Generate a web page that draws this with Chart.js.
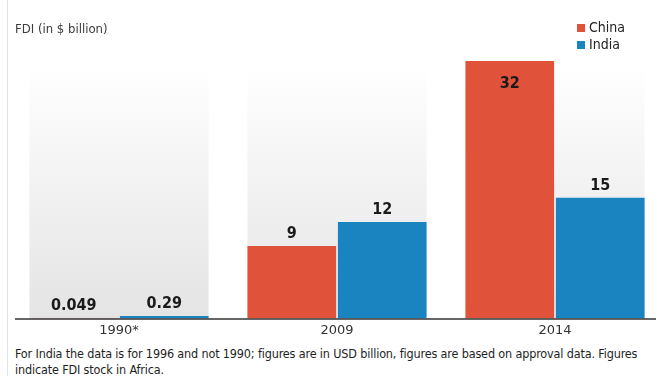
<!DOCTYPE html>
<html lang="en">
  <head>
    <meta charset="UTF-8" />
    <title>FDI in Africa</title>
    <script src="https://cdn.jsdelivr.net/npm/chart.js"></script>
    <style>
      body {
        margin: 0;
        width: 656px;
        height: 376px;
        overflow: hidden;
        background: #ffffff;
        font-family: "DejaVu Sans", sans-serif;
        font-stretch: condensed;
        position: relative;
      }

      .frame {
        position: absolute;
        left: 7px;
        top: 0;
        width: 1px;
        height: 376px;
        background: #e4e4e4;
      }

      h1 {
        position: absolute;
        left: 15px;
        top: 21px;
        margin: 0;
        font-size: 13px;
        font-weight: normal;
        color: #3a3a3a;
      }

      .legend {
        position: absolute;
        left: 577px;
        top: 19px;
        font-size: 14px;
        color: #222;
        line-height: 17px;
      }

      .legend span {
        display: inline-block;
        width: 8px;
        height: 8px;
        margin-right: 4px;
      }

      #wrap {
        position: absolute;
        left: 0;
        top: 0;
        width: 672px;
        height: 342px;
      }

      .note {
        position: absolute;
        left: 15px;
        top: 346px;
        width: 660px;
        margin: 0;
        font-size: 12.5px;
        line-height: 16px;
        color: #1e1e1e;
        letter-spacing: -0.15px;
      }
    </style>
  </head>
  <body>
    <div class="frame"></div>
    <div id="wrap"><canvas id="fdiChart"></canvas></div>
    <h1>FDI (in $ billion)</h1>
    <div class="legend">
      <div><span style="background:#e0533a"></span>China</div>
      <div><span style="background:#1a84c0"></span>India</div>
    </div>
    <p class="note">
      For India the data is for 1996 and not 1990; figures are in USD billion, figures are based on approval data. Figures<br />
      indicate FDI stock in Africa.
    </p>

    <script>
      const years = ["1990*", "2009", "2014"];
      const china = [0.049, 9, 32];
      const india = [0.29, 12, 15];
      const chinaLabels = ["0.049", "9", "32"];
      const indiaLabels = ["0.29", "12", "15"];

      const chinaColor = "#e0533a";
      const indiaColor = "#1a84c0";

      // gray gradient panel behind each year's pair of bars
      const bandPlugin = {
        id: "bands",
        beforeDatasetsDraw(chart) {
          const ctx = chart.ctx;
          const area = chart.chartArea;
          const m0 = chart.getDatasetMeta(0).data;
          const m1 = chart.getDatasetMeta(1).data;
          const top = area.top + 4;
          ctx.save();
          for (let i = 0; i < m0.length; i++) {
            const left = m0[i].x - m0[i].width / 2;
            const right = m1[i].x + m1[i].width / 2;
            const g = ctx.createLinearGradient(0, top, 0, area.bottom);
            g.addColorStop(0, "rgba(255,255,255,1)");
            g.addColorStop(1, "#e4e4e4");
            ctx.fillStyle = g;
            ctx.fillRect(left, top, right - left, area.bottom - top);
          }
          ctx.restore();
        },
        afterDatasetsDraw(chart) {
          const ctx = chart.ctx;
          const area = chart.chartArea;
          ctx.save();
          // baseline
          ctx.strokeStyle = "#333";
          ctx.lineWidth = 1.5;
          ctx.beginPath();
          ctx.moveTo(15, area.bottom + 0.5);
          ctx.lineTo(chart.width, area.bottom + 0.5);
          ctx.stroke();

          // value labels
          ctx.font = "bold 16px 'DejaVu Sans', sans-serif";
          if ("fontStretch" in ctx) ctx.fontStretch = "condensed";
          ctx.fillStyle = "#1a1a1a";
          ctx.textAlign = "center";
          const labels = [chinaLabels, indiaLabels];
          chart.data.datasets.forEach((ds, d) => {
            chart.getDatasetMeta(d).data.forEach((bar, i) => {
              if (bar.y - area.top < 30) {
                ctx.textBaseline = "middle";
                ctx.fillText(labels[d][i], bar.x, bar.y + 23);
              } else {
                ctx.textBaseline = "bottom";
                ctx.fillText(labels[d][i], bar.x, bar.y - 4);
              }
            });
          });
          ctx.restore();
        },
      };

      new Chart(document.getElementById("fdiChart"), {
        type: "bar",
        data: {
          labels: years,
          datasets: [
            {
              label: "China",
              data: china,
              backgroundColor: chinaColor,
              categoryPercentage: 0.83,
              barPercentage: 0.98,
            },
            {
              label: "India",
              data: india,
              backgroundColor: indiaColor,
              categoryPercentage: 0.83,
              barPercentage: 0.98,
            },
          ],
        },
        options: {
          responsive: true,
          maintainAspectRatio: false,
          animation: false,
          layout: { padding: { top: 61, left: 10, right: 8, bottom: 0 } },
          plugins: {
            legend: { display: false },
            tooltip: { enabled: false },
          },
          scales: {
            x: {
              grid: { display: false, drawTicks: false },
              border: { display: false },
              ticks: {
                color: "#333",
                padding: 4,
                font: { family: "'DejaVu Sans', sans-serif", size: 13 },
              },
            },
            y: {
              display: false,
              min: 0,
              max: 32,
            },
          },
        },
        plugins: [bandPlugin],
      });
    </script>
  </body>
</html>
